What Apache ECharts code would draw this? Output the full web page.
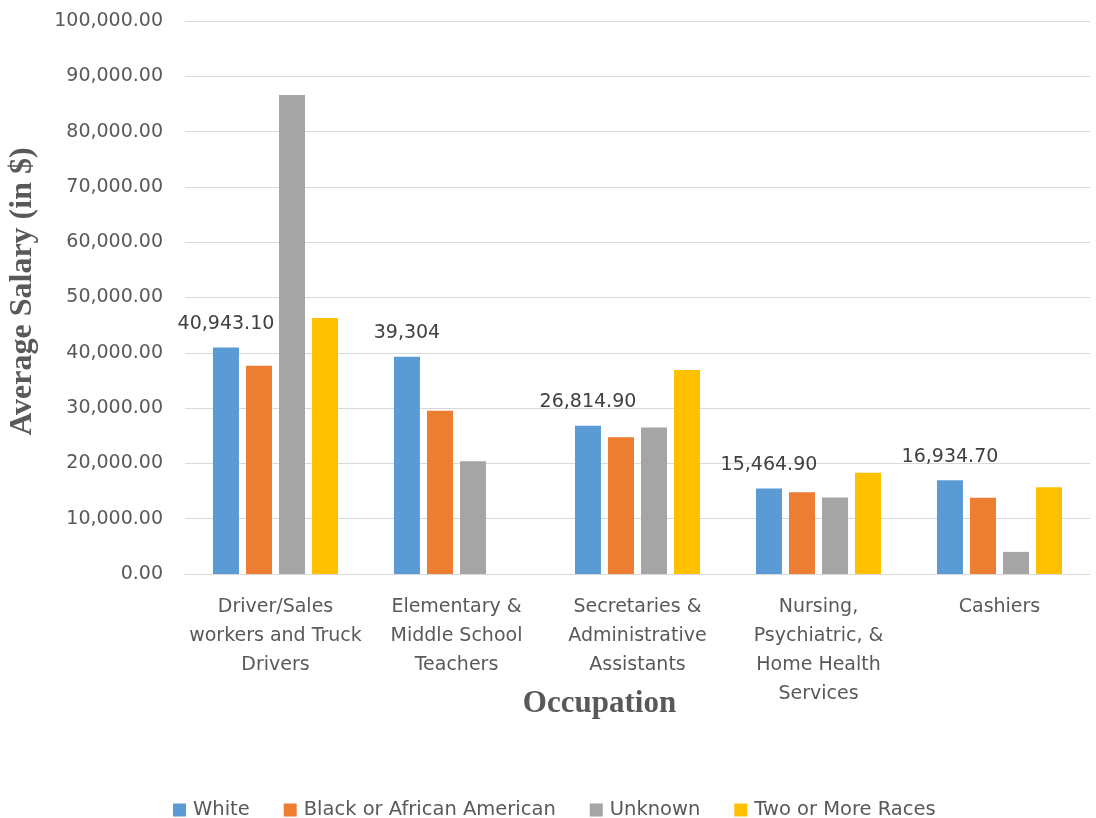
<!DOCTYPE html>
<html>
<head>
<meta charset="utf-8">
<script src="https://cdn.jsdelivr.net/npm/echarts@6/dist/echarts.min.js"></script>
<style>
html,body{margin:0;padding:0;background:#fff;}
#chart{width:1096px;height:818px;}
</style>
</head>
<body>
<div id="chart"></div>
<script>
const categories = [
  "Driver/Sales\nworkers and Truck\nDrivers",
  "Elementary &\nMiddle School\nTeachers",
  "Secretaries &\nAdministrative\nAssistants",
  "Nursing,\nPsychiatric, &\nHome Health\nServices",
  "Cashiers"
];
const seriesNames = ["White", "Black or African American", "Unknown", "Two or More Races"];
const white = [40943.10, 39304, 26814.90, 15464.90, 16934.70];
const black = [37650, 29500, 24750, 14800, 13800];
const unknown = [86600, 20400, 26500, 13850, 4000];
const twoOrMore = [46300, null, 36900, 18300, 15700];
const whiteLabels = ["40,943.10", "39,304", "26,814.90", "15,464.90", "16,934.70"];
const yTicks = {min: 0, max: 100000, interval: 10000};
const colors = ["#5b9bd5", "#ed7d31", "#a5a5a5", "#ffc000"];

const FONT = "DejaVu Sans";
const chart = echarts.init(document.getElementById('chart'));
const values = [white, black, unknown, twoOrMore];
const series = seriesNames.map((n, i) => {
  const s = {
    name: n, type: 'bar', data: values[i],
    barWidth: 26, barGap: '27%',
    itemStyle: {color: colors[i]}
  };
  if (i === 0) {
    s.label = {
      show: true, position: 'top', distance: 14,
      formatter: p => whiteLabels[p.dataIndex],
      color: '#404040', fontFamily: FONT, fontSize: 19
    };
  }
  return s;
});

chart.setOption({
  animation: false,
  color: colors,
  grid: {left: 185, right: 6, top: 21, bottom: 244, outerBoundsMode: 'none', containLabel: false},
  legend: {
    data: seriesNames, left: 168, top: 795,
    icon: 'rect', itemWidth: 13, itemHeight: 13, itemGap: 34,
    textStyle: {color: '#595959', fontFamily: FONT, fontSize: 19.5, padding: [0, 0, 0, 2]}
  },
  xAxis: {
    type: 'category', data: categories,
    name: 'Occupation', nameLocation: 'middle', nameGap: 114, nameMoveOverlap: false,
    nameTextStyle: {fontFamily: 'Liberation Serif', fontWeight: 'bold', fontSize: 31, color: '#595959', padding: [0, 76, 0, 0]},
    axisLine: {lineStyle: {color: '#d9d9d9', width: 1}},
    axisTick: {show: false},
    axisLabel: {color: '#595959', fontFamily: FONT, fontSize: 19, lineHeight: 29, margin: 19, interval: 0}
  },
  yAxis: {
    type: 'value', min: yTicks.min, max: yTicks.max, interval: yTicks.interval,
    name: 'Average Salary (in $)', nameLocation: 'middle', nameGap: 146, nameRotate: 90, nameMoveOverlap: false,
    nameTextStyle: {fontFamily: 'Liberation Serif', fontWeight: 'bold', fontSize: 32, color: '#595959', padding: [0, 0, 0, 12]},
    axisLine: {show: false}, axisTick: {show: false},
    splitLine: {lineStyle: {color: '#d9d9d9', width: 1}},
    axisLabel: {
      color: '#595959', fontFamily: FONT, fontSize: 19, margin: 22,
      formatter: v => v.toLocaleString('en-US', {minimumFractionDigits: 2, maximumFractionDigits: 2})
    }
  },
  series: series
});
</script>
</body>
</html>
